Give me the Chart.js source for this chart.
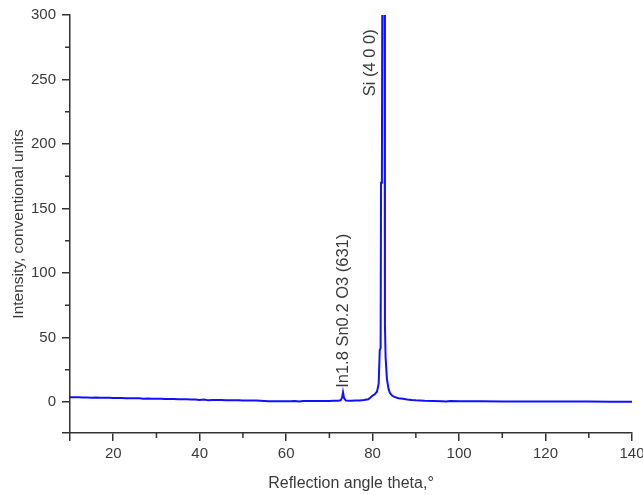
<!DOCTYPE html>
<html>
<head>
<meta charset="utf-8">
<script src="https://cdn.jsdelivr.net/npm/chart.js@4/dist/chart.umd.min.js"></script>
<style>
  html, body { margin: 0; padding: 0; background: #fff; }
  #wrap { width: 643px; height: 495px; }
</style>
</head>
<body>
<div id="wrap"><canvas id="xrd"></canvas></div>
<script>
// diffraction scan: angle (deg) and intensity
const angle = [
  10, 11, 12, 13, 14, 15, 16, 17, 18, 19,
  20, 21, 22, 23, 24, 25, 26, 27, 28, 29,
  30, 31, 32, 33, 34, 35, 36, 37, 38, 39,
  40, 41, 42, 43, 44, 45, 46, 47, 48, 49,
  50, 51, 52, 53, 54, 55, 56, 57, 58, 59,
  60, 61, 62, 63, 64, 65, 66, 67, 68, 69,
  70, 71, 72, 72.6, 72.95, 73.15, 73.4, 73.8, 75, 76,
  77, 78, 79, 79.5, 80, 80.5, 81, 81.4, 81.65, 81.85,
  81.95, 82.15, 82.25, 82.75, 82.85, 83.0, 83.3, 83.7, 84, 84.5,
  85, 86, 87, 88, 89, 90, 92, 94, 96, 97,
  98, 100, 102, 105, 110, 115, 120, 125, 130, 135, 140
];
const intensity = [
  3.8, 3.7, 3.8, 3.6, 3.5, 3.3, 3.5, 3.4, 3.3, 3.4,
  3.2, 3.1, 3.1, 3.0, 3.0, 2.9, 2.9, 2.6, 2.7, 2.6,
  2.5, 2.5, 2.4, 2.4, 2.3, 2.2, 2.2, 2.1, 2.0, 1.9,
  1.6, 1.9, 1.3, 1.6, 1.5, 1.5, 1.4, 1.4, 1.3, 1.3,
  1.2, 1.2, 1.1, 1.1, 1.0, 0.8, 0.6, 0.7, 0.6, 0.7,
  0.7, 0.6, 0.8, 0.5, 0.8, 0.9, 0.8, 0.9, 0.9, 0.9,
  0.9, 1.0, 1.0, 1.3, 3.5, 7.5, 3.0, 1.2, 1.0, 1.1,
  1.2, 1.5, 2.2, 3.5, 5.0, 6.0, 8.0, 14, 40, 42,
  170, 172, 340, 340, 60, 35, 18, 10, 7, 5,
  4, 3, 2.5, 2.0, 1.6, 1.3, 1.0, 0.9, 0.7, 0.5,
  0.8, 0.6, 0.7, 0.6, 0.5, 0.5, 0.4, 0.4, 0.4, 0.3, 0.3
];

// minor tick positions between the labelled ones
const xMinor = [30, 50, 70, 90, 110, 130];
const yMinor = [25, 75, 125, 175, 225, 275];

// peak annotations: [angle, intensity at text start, text]
const peakNames = [
  [73.15, 11, 'In1.8 Sn0.2 O3 (631)'],
  [79.5, 237, 'Si (4 0 0)']
];

const axisColor = '#333';
const textColor = '#3a3a3a';
const family = 'Liberation Sans, Arial, sans-serif';

const extras = {
  id: 'extras',
  afterDatasetsDraw(chart) {
    const { ctx, chartArea: area, scales: { x, y } } = chart;
    ctx.save();
    // short minor ticks
    ctx.strokeStyle = axisColor;
    ctx.lineWidth = 1.5;
    ctx.beginPath();
    xMinor.forEach(v => {
      const px = x.getPixelForValue(v);
      ctx.moveTo(px, area.bottom);
      ctx.lineTo(px, area.bottom + 5);
    });
    yMinor.forEach(v => {
      const py = y.getPixelForValue(v);
      ctx.moveTo(area.left, py);
      ctx.lineTo(area.left - 5, py);
    });
    ctx.stroke();

    // rotated peak names
    ctx.fillStyle = textColor;
    ctx.font = '16.5px ' + family;
    ctx.textAlign = 'left';
    ctx.textBaseline = 'middle';
    peakNames.forEach(([a, v, txt]) => {
      ctx.save();
      ctx.translate(x.getPixelForValue(a), y.getPixelForValue(v));
      ctx.rotate(-Math.PI / 2);
      ctx.fillText(txt, 0, 0);
      ctx.restore();
    });
    ctx.restore();
  }
};

new Chart(document.getElementById('xrd'), {
  type: 'line',
  data: {
    datasets: [{
      data: angle.map((a, i) => ({ x: a, y: intensity[i] })),
      borderColor: '#1010ff',
      borderWidth: 2,
      pointRadius: 0,
      tension: 0,
      fill: false
    }]
  },
  options: {
    responsive: true,
    maintainAspectRatio: false,
    animation: false,
    layout: { padding: { top: 15, right: 0, left: 0, bottom: 0 } },
    plugins: { legend: { display: false }, tooltip: { enabled: false } },
    scales: {
      x: {
        type: 'linear',
        min: 10,
        max: 140,
        border: { color: axisColor, width: 1.5 },
        grid: { drawOnChartArea: false, drawTicks: true, tickLength: 8, color: axisColor, lineWidth: 1.5 },
        ticks: {
          stepSize: 20,
          color: textColor,
          font: { family: family, size: 15 },
          padding: 4,
          maxRotation: 0,
          autoSkip: false,
          callback: v => (v % 20 === 0 ? v : '')
        },
        title: {
          display: true,
          text: 'Reflection angle theta,°',
          color: textColor,
          font: { family: family, size: 16 },
          padding: { top: 4, bottom: 1.5 }
        },
        afterFit: s => {
          s.height = 62;
          s.paddingLeft = 0;
          s.paddingRight = 11;
        }
      },
      y: {
        min: -24,
        max: 300,
        border: { color: axisColor, width: 1.5 },
        grid: { drawOnChartArea: false, drawTicks: true, tickLength: 8, color: axisColor, lineWidth: 1.5 },
        ticks: {
          stepSize: 50,
          color: textColor,
          font: { family: family, size: 15 },
          padding: 6,
          autoSkip: false,
          callback: v => (v >= 0 ? v : '')
        },
        title: {
          display: true,
          text: 'Intensity, conventional units',
          color: textColor,
          font: { family: family, size: 15.5 },
          padding: { top: 9, bottom: 4 }
        },
        afterFit: s => { s.width = 70; }
      }
    }
  },
  plugins: [extras]
});
</script>
</body>
</html>
